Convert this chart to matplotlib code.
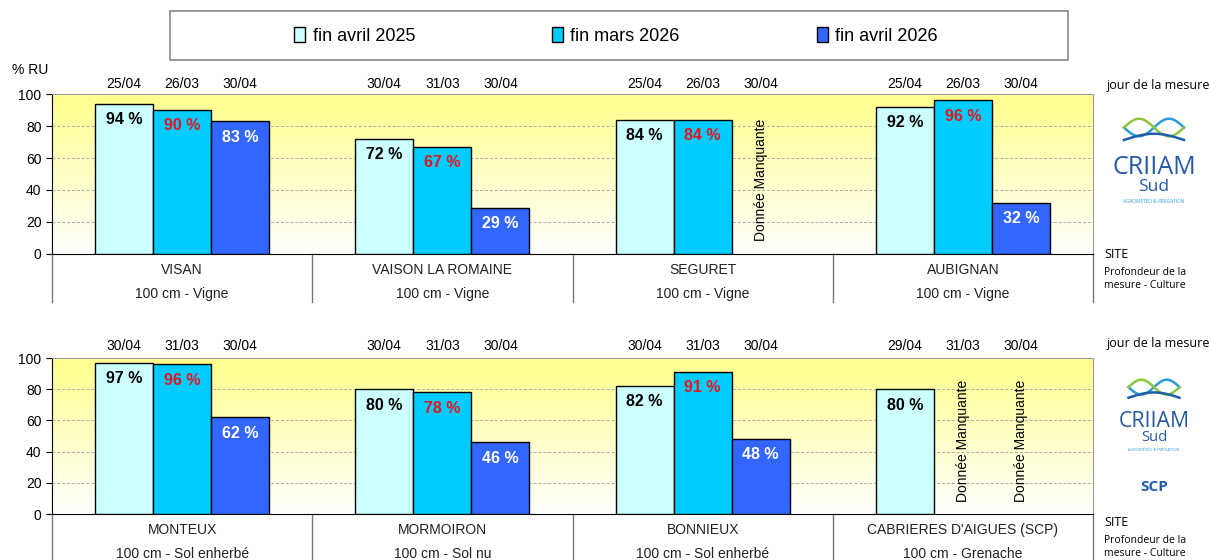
import numpy as np
import matplotlib
matplotlib.use('Agg')
import matplotlib.pyplot as plt
from matplotlib.patches import Patch, Rectangle

plt.rcParams['font.family'] = ['Liberation Sans', 'DejaVu Sans']

#Data
series = ['fin avril 2025', 'fin mars 2026', 'fin avril 2026']
colors = ['#CCFFFF', '#00CCFF', '#3366FF']
label_colors = ['black', '#E8141B', 'white']

sites_top = ['VISAN', 'VAISON LA ROMAINE', 'SEGURET', 'AUBIGNAN']
subs_top = ['100 cm - Vigne', '100 cm - Vigne', '100 cm - Vigne', '100 cm - Vigne']
dates_top = [['25/04', '26/03', '30/04'], ['30/04', '31/03', '30/04'],
             ['25/04', '26/03', '30/04'], ['25/04', '26/03', '30/04']]
ru_2025_top = [94, 72, 84, 92]
ru_mar26_top = [90, 67, 84, 96]
ru_apr26_top = [83, 29, None, 32]

sites_bot = ['MONTEUX', 'MORMOIRON', 'BONNIEUX', "CABRIERES D'AIGUES (SCP)"]
subs_bot = ['100 cm - Sol enherbé', '100 cm - Sol nu', '100 cm - Sol enherbé', '100 cm - Grenache']
dates_bot = [['30/04', '31/03', '30/04'], ['30/04', '31/03', '30/04'],
             ['30/04', '31/03', '30/04'], ['29/04', '31/03', '30/04']]
ru_2025_bot = [97, 80, 82, 80]
ru_mar26_bot = [96, 78, 91, None]
ru_apr26_bot = [62, 46, 48, None]

missing_text = 'Donnée Manquante'
W = 1209
H = 560

fig = plt.figure(figsize=(W / 100, H / 100), dpi=100)
fig.patch.set_facecolor('white')

bw = 58 / 260.0
offsets = [-bw, 0, bw]


def draw_panel(rect, sites, subs, dates, vals, sep_bottom, date_y, name_y, sub_y):
    ax = fig.add_axes(rect)
    ax.set_xlim(-0.5, len(sites) - 0.5)
    ax.set_ylim(0, 100)
    # yellow-to-white background
    grad = np.linspace(1, 0, 256).reshape(-1, 1)
    cm = matplotlib.colors.LinearSegmentedColormap.from_list('yw', ['white', '#FFFF8C'])
    ax.imshow(grad, extent=(-0.5, len(sites) - 0.5, 0, 100), aspect='auto',
              cmap=cm, vmin=0, vmax=1, zorder=0)
    for yv in [20, 40, 60, 80]:
        ax.axhline(yv, color='#AAAAAA', lw=0.7, ls=(0, (3, 2)), zorder=1)
    for s in range(3):
        for i in range(len(sites)):
            v = vals[s][i]
            x = i + offsets[s]
            if v is None:
                ax.text(x, 8, missing_text, rotation=90, ha='center', va='bottom',
                        fontsize=10, zorder=4)
                continue
            ax.bar(x, v, width=bw, color=colors[s], edgecolor='black', lw=1, zorder=3)
            ax.annotate(f'{v} %', xy=(x, v), xytext=(0, -6), textcoords='offset points',
                        ha='center', va='top', fontsize=11.5, fontweight='bold',
                        color=label_colors[s], zorder=5)
    for i in range(len(sites)):
        for s in range(3):
            ax.text(i + offsets[s], date_y, dates[i][s], transform=ax.get_xaxis_transform(),
                    ha='center', va='center', fontsize=10)
        ax.text(i, name_y, sites[i], transform=ax.get_xaxis_transform(),
                ha='center', va='center', fontsize=10, color='#222222')
        ax.text(i, sub_y, subs[i], transform=ax.get_xaxis_transform(),
                ha='center', va='center', fontsize=10, color='#222222')
    for k in range(len(sites) + 1):
        ax.plot([k - 0.5, k - 0.5], [0, sep_bottom], transform=ax.get_xaxis_transform(),
                color='#777777', lw=1, clip_on=False, zorder=2)
    ax.set_yticks([0, 20, 40, 60, 80, 100])
    ax.tick_params(axis='y', labelsize=10, direction='out', length=4)
    ax.set_xticks([])
    for sp in ['top', 'right']:
        ax.spines[sp].set_color('#999999')
    ax.spines['left'].set_color('black')
    ax.spines['bottom'].set_color('black')
    return ax


vals_top = [ru_2025_top, ru_mar26_top, ru_apr26_top]
vals_bot = [ru_2025_bot, ru_mar26_bot, ru_apr26_bot]

ax1 = draw_panel([52 / W, 1 - 254 / H, 1041 / W, 160 / H], sites_top, subs_top, dates_top,
                 vals_top, -0.3, 1.0625, -0.1, -0.25)
ax2 = draw_panel([52 / W, 1 - 514 / H, 1041 / W, 156 / H], sites_bot, subs_bot, dates_bot,
                 vals_bot, -0.3, 1.077, -0.103, -0.256)

fig.text(12 / W, 1 - 70 / H, '% RU', fontsize=10, va='center')

# Legend box + entries
fig.patches.append(Rectangle((170 / W, 1 - 60 / H), 898 / W, 49 / H, transform=fig.transFigure,
                             facecolor='white', edgecolor='#888888', lw=1.2))
handles = [Patch(facecolor=c, edgecolor='black', lw=1) for c in colors]
fig.legend(handles, series, loc='center', ncol=3, bbox_to_anchor=(616 / W, 1 - 36 / H),
           fontsize=13, frameon=False, handlelength=0.6, handleheight=0.9,
           handletextpad=0.4, columnspacing=7.6)

# Right side annotations
side_font = ['Open Sans', 'DejaVu Sans']
for yy in [85, 344]:
    fig.text(1107 / W, 1 - yy / H, 'jour de la mesure', fontsize=9, va='center', family=side_font)
for yy in [255, 523]:
    fig.text(1104 / W, 1 - yy / H, 'SITE', fontsize=9, va='center', family=side_font)
    fig.text(1104 / W, 1 - (yy + 24) / H, 'Profondeur de la\nmesure - Culture', fontsize=7.5,
             va='center', family=side_font, linespacing=1.3)


def logo(cx, top, scale):
    lax = fig.add_axes([(cx - 50 * scale) / W, 1 - (top + 50 * scale) / H,
                        100 * scale / W, 50 * scale / H])
    lax.set_xlim(-1, 1)
    lax.set_ylim(-1, 1)
    lax.axis('off')
    t = np.linspace(-0.6, 0.6, 100)
    lax.plot(t, 0.35 * np.sin(np.pi * t / 0.6) + 0.1, color='#2A9BD8', lw=1.8)
    lax.plot(t, -0.35 * np.sin(np.pi * t / 0.6) + 0.1, color='#8CC63F', lw=1.8)
    lax.plot(t, 0.25 * np.cos(np.pi * t / 1.2) - 0.4, color='#1F5FA8', lw=1.8)
    fig.text(cx / W, 1 - (top + 63 * scale) / H, 'CRIIAM', fontsize=18 * scale, color='#2459A6',
             ha='center', va='center', family=side_font)
    fig.text(cx / W, 1 - (top + 82 * scale) / H, 'Sud', fontsize=12.5 * scale, color='#2459A6',
             ha='center', va='center', family=side_font)
    fig.text(cx / W, 1 - (top + 96 * scale) / H, 'AGROMÉTÉO & IRRIGATION', fontsize=3.4 * scale,
             color='#2A9BD8', ha='center', va='center', family=side_font)


logo(1154, 105, 1.0)
logo(1154, 368, 0.85)
fig.text(1154 / W, 1 - 487 / H, 'SCP', fontsize=11, fontweight='bold', color='#1F5FA8',
         ha='center', va='center', family=side_font)

fig.savefig('out.png', dpi=100)
